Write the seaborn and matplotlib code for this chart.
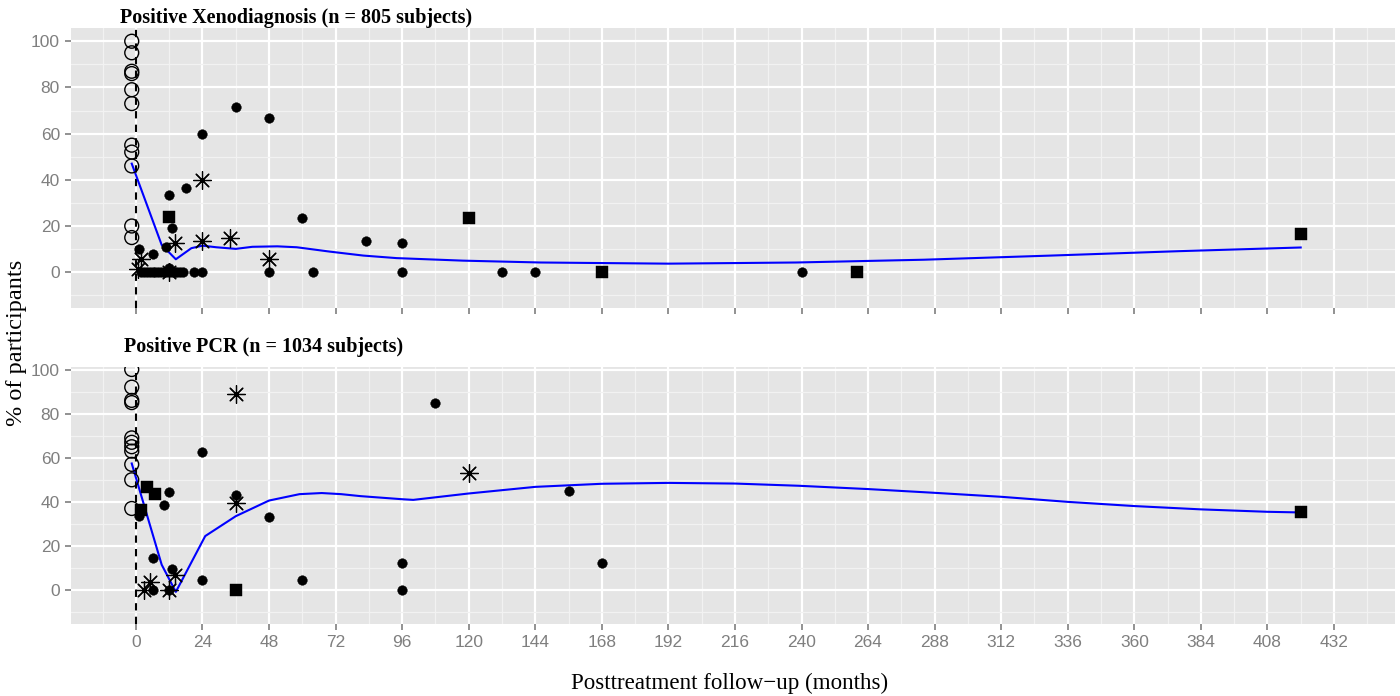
import numpy as np
import pandas as pd
import matplotlib
matplotlib.use("Agg")
import matplotlib.pyplot as plt
import seaborn as sns
from matplotlib.markers import MarkerStyle
from matplotlib.ticker import FixedLocator

# ---------------- data ----------------
# Panel 1: Positive Xenodiagnosis
xeno_base_month = [-1.5] * 11
xeno_base_value = [100, 95, 87, 86, 79, 73, 55, 52, 46, 20, 15]

xeno_dot_month = [1, 6, 2, 3, 4, 5, 6, 7, 8, 9, 10, 11, 12, 13, 14, 15, 16, 17,
                  12, 18, 13, 11, 12, 21, 24, 24, 36, 48, 48, 60, 64, 83, 96, 96,
                  132, 144, 240]
xeno_dot_value = [10, 8, 0, 0, 0, 0, 0, 0, 0, 0, 0, 0, 0, 0, 0, 0, 0, 0,
                  33.5, 36.5, 19, 11, 2, 0, 0, 60, 71.5, 66.8, 0, 23.5, 0, 13.5, 12.8, 0,
                  0, 0, 0]

xeno_sq_month = [12, 120, 168, 260, 420]
xeno_sq_value = [24, 23.5, 0, 0, 16.6]

xeno_ast_month = [0.6, 2, 12, 14, 24, 24, 34, 48]
xeno_ast_value = [1.3, 5.6, 0, 12.6, 40, 13.6, 14.7, 5.6]

xeno_fit_month = [-1.5, 9.3, 14.4, 20, 24, 29, 36, 42, 51, 58, 70, 82, 94, 118,
                  146, 192, 238, 284, 330, 376, 420]
xeno_fit_value = [47, 11.8, 5.6, 10.4, 11.5, 10.8, 10.1, 11.0, 11.2, 10.8, 8.9, 7.2,
                  6.1, 5.0, 4.2, 3.7, 4.2, 5.4, 7.2, 9.1, 10.7]

# Panel 2: Positive PCR
pcr_base_month = [-1.5] * 11
pcr_base_value = [100, 92, 86, 85, 69, 67, 65, 63, 57, 50, 37]

pcr_dot_month = [1, 6, 6, 10, 12, 13, 12, 24, 24, 36, 48, 60, 96, 96, 108, 156, 168]
pcr_dot_value = [33.5, 14.4, 0, 38.5, 44.5, 9.5, 0, 62.4, 4.5, 43, 33.2, 4.8, 12.4,
                 0, 85, 45, 12.4]

pcr_sq_month = [2, 4, 7, 36, 420]
pcr_sq_value = [36.2, 46.8, 43.4, 0, 35.3]

pcr_ast_month = [3, 5, 12, 14, 36, 36, 120]
pcr_ast_value = [0, 3.5, 0, 6.8, 88.7, 39.6, 52.9]

pcr_fit_month = [-1.5, 9.3, 14.4, 25, 36, 48, 59, 67, 74, 81, 96, 100, 120, 144,
                 168, 192, 216, 239, 264, 288, 312, 336, 360, 384, 408, 420]
pcr_fit_value = [57.4, 11.5, -0.8, 24.5, 33.5, 40.6, 43.5, 44.0, 43.5, 42.6, 41.2,
                 40.9, 43.8, 46.8, 48.2, 48.6, 48.3, 47.3, 45.8, 44.1, 42.3, 40.0,
                 38.1, 36.6, 35.5, 35.2]

titles = ["Positive Xenodiagnosis (n = 805 subjects)",
          "Positive PCR (n = 1034 subjects)"]
x_ticks = list(range(0, 433, 24))
y_ticks = [0, 20, 40, 60, 80, 100]
x_label = "Posttreatment follow\u2212up (months)"
y_label = "% of participants"

# ---------------- figure ----------------
W, H = 1400, 696
fig = plt.figure(figsize=(W / 100, H / 100), dpi=100)
serif = ["Liberation Serif", "DejaVu Serif"]
sans = ["Liberation Sans", "DejaVu Sans"]

ax1 = fig.add_axes([71 / W, 1 - 308 / H, 1324 / W, 279.7 / H])
ax2 = fig.add_axes([71 / W, 1 - 624.3 / H, 1324 / W, 257 / H])

panels = [
    (ax1, xeno_base_month, xeno_base_value, xeno_dot_month, xeno_dot_value,
     xeno_sq_month, xeno_sq_value, xeno_ast_month, xeno_ast_value,
     xeno_fit_month, xeno_fit_value, (-15.5, 105.6)),
    (ax2, pcr_base_month, pcr_base_value, pcr_dot_month, pcr_dot_value,
     pcr_sq_month, pcr_sq_value, pcr_ast_month, pcr_ast_value,
     pcr_fit_month, pcr_fit_value, (-15.5, 101.0)),
]

asterisk = MarkerStyle((8, 2, 0))

for (ax, bm, bv, dm, dv, sm, sv, am, av, fm, fv, ylim) in panels:
    ax.set_facecolor("#E5E5E5")
    for s in ax.spines.values():
        s.set_visible(False)
    ax.set_xlim(-23.4, 454)
    ax.set_ylim(*ylim)
    ax.set_xticks(x_ticks)
    ax.set_yticks(y_ticks)
    ax.xaxis.set_minor_locator(FixedLocator(np.arange(-12, 460, 24)))
    ax.yaxis.set_minor_locator(FixedLocator(np.arange(-10, 110, 20)))
    ax.set_axisbelow(True)
    ax.grid(which="minor", color="#F2F2F2", lw=0.9)
    ax.grid(which="major", color="white", lw=1.6)
    ax.tick_params(which="minor", length=0)
    ax.tick_params(which="major", length=4.5, width=1.2, color="#7F7F7F",
                   labelcolor="#7F7F7F", labelsize=12.5, pad=3.5)
    for lab in ax.get_xticklabels() + ax.get_yticklabels():
        lab.set_family(sans)

    ax.axvline(0, color="black", lw=1.5, ls=(0, (3.5, 3.0)), zorder=1.5)

    sns.lineplot(x=fm, y=fv, ax=ax, color="#0000FF", lw=1.5, sort=False,
                 estimator=None, zorder=2)
    sns.scatterplot(x=bm, y=bv, ax=ax, marker="o", s=100, facecolor="none",
                    edgecolor="black", linewidth=1.0, zorder=3)
    sns.scatterplot(x=dm, y=dv, ax=ax, marker="o", s=48, color="black",
                    edgecolor="black", linewidth=0.3, zorder=3)
    sns.scatterplot(x=sm, y=sv, ax=ax, marker="s", s=85, color="black",
                    edgecolor="black", linewidth=0.3, zorder=3)
    sns.scatterplot(x=am, y=av, ax=ax, marker=asterisk, s=165, color="black",
                    linewidth=0.9, zorder=3)
    ax.set_xlabel("")
    ax.set_ylabel("")

ax1.set_xticklabels([])

fig.text(120 / W, 1 - 23.3 / H, titles[0], family=serif, weight="bold",
         fontsize=14.5, ha="left", va="baseline")
fig.text(124 / W, 1 - 352.3 / H, titles[1], family=serif, weight="bold",
         fontsize=14.5, ha="left", va="baseline")
fig.text(17 / W, 1 - 343 / H, y_label, family=serif, fontsize=17.5,
         rotation=90, ha="center", va="center")
fig.text(730 / W, 1 - 689 / H, x_label, family=serif, fontsize=16.6,
         ha="center", va="baseline")

fig.savefig("out.png", dpi=100)
